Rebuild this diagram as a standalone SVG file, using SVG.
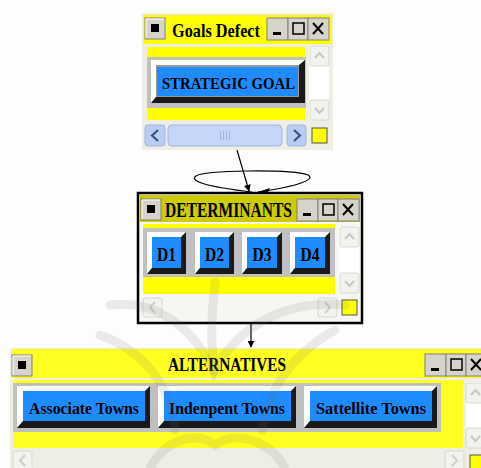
<svg xmlns="http://www.w3.org/2000/svg" width="481" height="468" viewBox="0 0 481 468">
<defs>
<style>
.win{fill:#efeee4}
.yel{fill:#ffff00}
.band{fill:#c0c0c0}
.face{fill:#1e8cff}
.hi{fill:#ffffff}
.lo{fill:#1a1a1a}
.tb{fill:#d6d3cb;stroke:#808080;stroke-width:1}
.sb{fill:#f2f2ee;stroke:#d8d8d0;stroke-width:1}
.t{font-family:"Liberation Serif","Times New Roman",serif;font-weight:bold;fill:#000}
.edge{fill:none;stroke:#000;stroke-width:1.2}
.wm{fill:none;stroke:#6a6a6a;stroke-width:9;stroke-linecap:round;opacity:0.13}
</style>
<marker id="ah" viewBox="0 0 10 10" refX="9" refY="5" markerWidth="7" markerHeight="7" orient="auto" markerUnits="userSpaceOnUse">
<path d="M0,0 L10,5 L0,10 z" fill="#000"/>
</marker>
<g id="sysbtn"><rect x="0" y="0" width="20" height="21" class="tb"/><line x1="1" y1="1" x2="19" y2="1" stroke="#fff"/><line x1="1" y1="1" x2="1" y2="20" stroke="#fff"/><rect x="6" y="6" width="8" height="8" fill="#000"/></g>
<g id="ctrl">
<rect x="0" y="0" width="21" height="22" class="tb"/><rect x="6" y="14" width="8" height="3" fill="#000"/>
<rect x="21" y="0" width="20" height="22" class="tb"/><rect x="26" y="5" width="11" height="11" fill="none" stroke="#000" stroke-width="1.5"/>
<rect x="41" y="0" width="21" height="22" class="tb"/><path d="M46,5 L56,16 M56,5 L46,16" stroke="#000" stroke-width="2"/>
</g>
<g id="vup"><rect x="0" y="0" width="19" height="20" rx="2" class="sb"/><path d="M5,12 L9.5,7 L14,12" fill="none" stroke="#c8c8c0" stroke-width="2"/></g>
<g id="vdn"><rect x="0" y="0" width="19" height="20" rx="2" class="sb"/><path d="M5,8 L9.5,13 L14,8" fill="none" stroke="#c8c8c0" stroke-width="2"/></g>
</defs>
<rect width="481" height="468" fill="#fdfdfd"/>

<g id="connectors">
<line x1="237" y1="150" x2="249" y2="191" class="edge" marker-end="url(#ah)"/>
<path d="M252,192 C200,186 190,180 196,176 C205,170 290,169 308,175 C316,179 300,186 258,192" class="edge"/>
<path d="M270,188 L258,192 L268,192 z" fill="#000"/>
<line x1="251" y1="323" x2="251" y2="347" class="edge" marker-end="url(#ah)"/>
</g>

<g id="goals-defect">
<rect x="142" y="13" width="191" height="137" class="win"/>
<rect x="143" y="15" width="189" height="29" class="yel"/>
<use href="#sysbtn" x="145" y="18"/>
<text x="172" y="37" class="t" font-size="19" textLength="88" lengthAdjust="spacingAndGlyphs">Goals Defect</text>
<use href="#ctrl" x="267" y="18"/>
<rect x="147" y="47" width="158" height="73" class="yel"/>
<rect x="147" y="57" width="159" height="51" class="band"/>
<polygon points="151,60 305,60 299,65 156,65 156,97 151,103" class="hi"/>
<polygon points="305,60 305,103 151,103 156,97 299,97 299,65" class="lo"/>
<rect x="156" y="65" width="143" height="32" fill="#9a9a9a"/>
<rect x="157" y="67" width="141" height="29" class="face"/>
<text x="162" y="89" class="t" font-size="17" textLength="133" lengthAdjust="spacingAndGlyphs">STRATEGIC GOAL</text>
<rect x="309" y="45" width="20" height="75" fill="#ffffff"/>
<use href="#vup" x="310" y="46"/>
<use href="#vdn" x="310" y="100"/>
<rect x="145" y="125" width="20" height="21" rx="3" fill="#b9cdf3" stroke="#9fb4e0"/>
<path d="M158,130 L152,135.5 L158,141" fill="none" stroke="#3a4f86" stroke-width="2.2"/>
<rect x="168" y="125" width="114" height="21" rx="4" fill="#c5d6f8" stroke="#9fb4e0"/>
<path d="M220.5,131 V140 M223.5,131 V140 M226.5,131 V140 M229.5,131 V140" stroke="#9fb3dd" stroke-width="1"/>
<rect x="287" y="125" width="19" height="21" rx="3" fill="#b9cdf3" stroke="#9fb4e0"/>
<path d="M294,130 L300,135.5 L294,141" fill="none" stroke="#3a4f86" stroke-width="2.2"/>
<rect x="312" y="128" width="15" height="15" fill="#ffff00" stroke="#555" stroke-width="1"/>
</g>

<g id="determinants">
<rect x="138" y="193" width="224" height="130" fill="#f6f6f2" stroke="#000" stroke-width="2.5"/>
<rect x="140" y="195" width="220" height="27" fill="#cccc00"/>
<use href="#sysbtn" x="141" y="199"/>
<text x="165" y="217" class="t" font-size="20" textLength="127" lengthAdjust="spacingAndGlyphs">DETERMINANTS</text>
<use href="#ctrl" x="297" y="199"/>
<rect x="143" y="224" width="192" height="70" class="yel"/>
<rect x="143" y="228" width="192" height="49" class="band"/>
<g id="d1"><polygon points="147,232 186,232 181,237 152,237 152,268 147,274" class="hi"/><polygon points="186,232 186,274 147,274 152,268 181,268 181,237" class="lo"/><rect x="152" y="237" width="29" height="31" class="face"/><text x="166.5" y="261" text-anchor="middle" class="t" font-size="18" textLength="19" lengthAdjust="spacingAndGlyphs">D1</text></g>
<g id="d2"><polygon points="195,232 234,232 229,237 200,237 200,268 195,274" class="hi"/><polygon points="234,232 234,274 195,274 200,268 229,268 229,237" class="lo"/><rect x="200" y="237" width="29" height="31" class="face"/><text x="214.5" y="261" text-anchor="middle" class="t" font-size="18" textLength="19" lengthAdjust="spacingAndGlyphs">D2</text></g>
<g id="d3"><polygon points="242,232 282,232 277,237 247,237 247,268 242,274" class="hi"/><polygon points="282,232 282,274 242,274 247,268 277,268 277,237" class="lo"/><rect x="247" y="237" width="30" height="31" class="face"/><text x="262" y="261" text-anchor="middle" class="t" font-size="18" textLength="19" lengthAdjust="spacingAndGlyphs">D3</text></g>
<g id="d4"><polygon points="290,232 330,232 325,237 295,237 295,268 290,274" class="hi"/><polygon points="330,232 330,274 290,274 295,268 325,268 325,237" class="lo"/><rect x="295" y="237" width="30" height="31" class="face"/><text x="310" y="261" text-anchor="middle" class="t" font-size="18" textLength="19" lengthAdjust="spacingAndGlyphs">D4</text></g>
<rect x="339" y="226" width="20" height="67" fill="#ffffff"/>
<use href="#vup" x="340" y="227"/>
<use href="#vdn" x="340" y="273"/>
<rect x="143" y="298" width="19" height="19" rx="2" class="sb"/>
<path d="M155,302 L150,307.5 L155,313" fill="none" stroke="#d0d0c8" stroke-width="2"/>
<rect x="318" y="298" width="19" height="19" rx="2" class="sb"/>
<path d="M325,302 L330,307.5 L325,313" fill="none" stroke="#d0d0c8" stroke-width="2"/>
<rect x="342" y="300" width="15" height="15" fill="#ffff00" stroke="#555" stroke-width="1"/>
</g>

<g id="alternatives">
<rect x="10" y="348" width="471" height="120" class="win"/>
<rect x="12" y="349" width="469" height="29" fill="#ffff22"/>
<use href="#sysbtn" x="12" y="355"/>
<text x="168" y="371" class="t" font-size="19" textLength="118" lengthAdjust="spacingAndGlyphs">ALTERNATIVES</text>
<use href="#ctrl" x="425" y="354"/>
<rect x="13" y="380" width="450" height="68" fill="#ffff22"/>
<rect x="13" y="383" width="428" height="49" class="band"/>
<g id="associate"><polygon points="17,386 150,386 145,391 23,391 23,421 17,428" class="hi"/><polygon points="150,386 150,428 17,428 23,421 145,421 145,391" class="lo"/><rect x="23" y="391" width="122" height="30" class="face"/><text x="29" y="414" class="t" font-size="16" textLength="110" lengthAdjust="spacingAndGlyphs">Associate Towns</text></g>
<g id="indenpent"><polygon points="158,386 296,386 291,391 164,391 164,421 158,428" class="hi"/><polygon points="296,386 296,428 158,428 164,421 291,421 291,391" class="lo"/><rect x="164" y="391" width="127" height="30" class="face"/><text x="169" y="414" class="t" font-size="16" textLength="116" lengthAdjust="spacingAndGlyphs">Indenpent Towns</text></g>
<g id="sattellite"><polygon points="304,386 437,386 432,391 310,391 310,421 304,428" class="hi"/><polygon points="437,386 437,428 304,428 310,421 432,421 432,391" class="lo"/><rect x="310" y="391" width="122" height="30" class="face"/><text x="316" y="414" class="t" font-size="16" textLength="110" lengthAdjust="spacingAndGlyphs">Sattellite Towns</text></g>
<rect x="466" y="382" width="15" height="66" fill="#ffffff"/>
<use href="#vup" x="466" y="383"/>
<use href="#vdn" x="466" y="428"/>
<rect x="13" y="451" width="19" height="19" rx="2" class="sb"/>
<path d="M25,455 L20,460.5 L25,466" fill="none" stroke="#d0d0c8" stroke-width="2"/>
<rect x="445" y="451" width="19" height="19" rx="2" class="sb"/>
<path d="M452,455 L457,460.5 L452,466" fill="none" stroke="#d0d0c8" stroke-width="2"/>
<rect x="470" y="455" width="15" height="15" fill="#ffff00" stroke="#555" stroke-width="1"/>
</g>

<g id="watermark">
<path d="M215,282 C212,310 210,335 214,372" class="wm"/>
<path d="M110,305 C150,300 190,320 214,372 C240,322 290,300 345,305" class="wm"/>
<path d="M100,335 C140,350 170,380 175,430" class="wm"/>
<path d="M335,330 C300,350 270,380 262,430" class="wm"/>
<path d="M150,468 C165,440 195,430 215,445 C235,430 270,440 285,468" class="wm"/>
</g>
</svg>
